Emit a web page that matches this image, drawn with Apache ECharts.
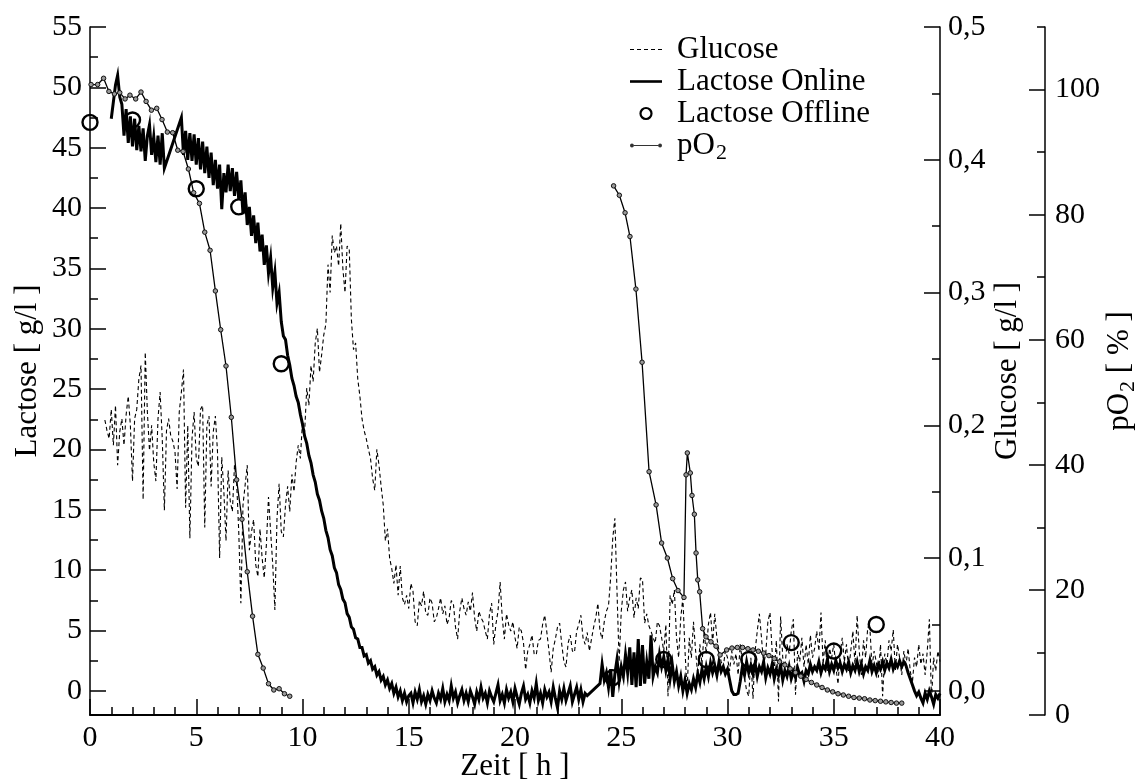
<!DOCTYPE html>
<html>
<head>
<meta charset="utf-8">
<script src="https://cdn.jsdelivr.net/npm/echarts@6/dist/echarts.min.js"></script>
<style>
  html, body { margin: 0; padding: 0; background: #fff; }
  #chart { width: 1148px; height: 780px; }
</style>
</head>
<body>
<div id="chart"></div>
<script>
// Fermentation run: lactose (online probe + offline samples), glucose and dissolved oxygen.
const FONT = "'Liberation Serif', 'Times New Roman', serif";

// Axis tick positions
const lactoseMajorTicks = [0, 5, 10, 15, 20, 25, 30, 35, 40, 45, 50, 55];
const lactoseMinorTicks = [2.5, 7.5, 12.5, 17.5, 22.5, 27.5, 32.5, 37.5, 42.5, 47.5, 52.5];
const glucoseMajorTicks = [0, 0.1, 0.2, 0.3, 0.4, 0.5];
const glucoseMinorTicks = [0.05, 0.15, 0.25, 0.35, 0.45];
const po2MajorTicks = [0, 20, 40, 60, 80, 100];
const po2MinorTicks = [10, 30, 50, 70, 90, 110];

// Online lactose probe, logged every 0.1 h in three recording blocks [g/l]
const lactoseOnlineStep = 0.1;
const lactoseOnlineStartA = 1.0;
const lactoseOnlineA = [47.4, 48.8, 50.2, 51.0, 49.2, 48.6, 46.0, 48.2, 45.4, 47.6, 45.1, 47.4, 44.8, 46.8, 44.7, 46.6, 43.9, 46.0, 46.9, 44.4, 45.9, 43.8, 46.0, 43.6, 46.2, 43.3];
const lactoseOnlineStartB = 4.3;
const lactoseOnlineB = [
  47.5, 44.4, 46.4, 44.0, 46.2, 43.9, 46.1, 43.6, 45.8, 43.2, 45.5, 42.9, 45.1, 42.5, 44.6, 41.9, 44.0, 41.6, 43.6, 39.9,
  42.9, 41.3, 43.6, 41.4, 43.3, 41.0, 43.0, 40.7, 42.3, 39.5, 41.3, 38.6, 40.1, 37.7, 39.4, 37.1, 38.8, 36.4, 37.8, 35.3,
  36.9, 34.6, 35.9, 33.4, 34.7, 32.1, 33.0, 30.6,
  29.4, 29.1, 27.8, 27.0, 25.9, 25.3, 24.4, 23.9, 22.9, 22.1,
  21.1, 20.5, 19.5, 18.9, 17.9, 17.3, 16.3, 15.8, 14.9, 14.3,
  13.3, 12.7, 11.7, 11.2, 10.2, 9.8, 8.8, 8.4, 7.6, 7.3,
  6.4, 6.1, 5.3, 5.1, 4.4, 4.3, 3.6, 3.6, 2.9, 3.0,
  2.3, 2.5, 1.8, 2.0, 1.3, 1.6, 0.9, 1.2, 0.5, 0.9,
  0.2, 0.6, -0.2, 0.3, -0.5, 0.0, -0.8, -0.2, -0.9, -0.4,
  -0.2, -1.0, -0.1, -0.7, 0.1, -0.9, -0.4, -1.1, -0.3, -0.8,
  0.0, -0.6, -1.0, -0.2, -0.7, 0.2, -0.9, -0.3, -0.8, 0.4,
  -0.6, -0.1, -1.0, -0.4, 0.1, -0.8, -0.2, -0.9, 0.0, -0.5,
  -1.1, -0.1, -0.7, 0.3, -0.6, -0.2, -1.0, 0.0, -0.5, -0.9,
  -0.2, 0.5, -0.8, -0.3, -1.0, 0.1, -0.6, -0.1, -0.9, 0.2,
  -0.5, -1.1, -0.2, 0.4, -0.7, -0.3, -1.0, 0.0, -0.6, 0.6,
  -0.8, -0.2, -1.0, 0.1, -0.5, -0.1, -0.9, 0.3, -0.6, -1.4,
  0.0, -0.7, 0.2, -0.8, -0.2, 0.4, -0.9, -0.3, 0.3, -0.7,
  0.1, -0.9, -0.2, -0.4
];
const lactoseOnlineStartC = 24.0;
const lactoseOnlineC = [
  0.6, 2.2, 0.9, 1.5, 0.3, 1.8, -0.5, 1.4, 2.6, 0.8, 2.0,
  1.2, 3.0, 1.5, 3.6, 0.5, 3.2, 0.3, 4.3, 0.4, 3.8,
  0.6, 2.4, 1.0, 4.6, 1.2, 2.0, 1.5, 3.0, 2.0, 2.8,
  1.7, 2.6, 1.0, 2.2, 0.8, 1.6, 0.4, 1.2, 0.0, 0.9,
  -0.2, 0.6, 0.1, 1.0, 0.3, 1.4, 0.7, 1.8, 1.0, 2.0,
  1.2, 2.3, 1.5, 2.1, 1.3, 2.4, 1.6, 2.0, 1.4, 1.8,
  0.9, 0.0, -0.3, -0.3, -0.2, 0.8, 2.0, 1.3, 2.4, 1.5,
  2.1, 1.4, 2.3, 1.2, 2.0, 1.6, 2.4, 1.1, 1.9, 1.4,
  2.2, 1.0, 1.8, 1.3, 2.1, 0.9, 1.7, 1.2, 2.0, 1.0,
  1.6, 1.1, 1.9, 1.3, 1.5, 0.8, 1.7, 1.4, 2.2, 1.6,
  2.0, 1.7, 2.4, 1.5, 2.1, 1.8, 2.6, 1.6, 2.2, 1.7,
  2.5, 1.9, 2.3, 1.6, 2.2, 1.8, 2.4, 1.5, 2.1, 1.7,
  2.4, 1.6, 2.2, 1.4, 2.0, 1.7, 2.5, 1.6, 2.1, 1.5,
  2.2, 1.8, 2.4, 1.7, 2.3, 1.9, 2.6, 1.8, 2.3, 2.0,
  2.5, 2.0, 2.4, 2.1, 1.5, 1.0, 0.5, 0.0, -0.4, -0.1,
  -0.6, -1.0, -0.2, -0.7, 0.0, -0.5, -1.1, -0.3, -0.6, -0.2
];

// Offline lactose samples
const offlineTimes = [0, 2, 5, 7, 9, 24.6, 27, 29, 31, 33, 35, 37];
const offlineLactose = [47.1, 47.3, 41.6, 40.1, 27.1, 1.1, 2.6, 2.6, 2.6, 4.0, 3.3, 5.5];

// Glucose probe, logged every 0.1 h from 0.7 h [g/l]
const glucoseStep = 0.1;
const glucoseStart = 0.7;
const glucose = [
  .204, .196, .190,
  .212, .185, .215, .170, .195, .205, .185, .208, .222, .200,
  .158, .205, .212, .235, .245, .144, .255, .210, .181, .200,
  .172, .158, .205, .225, .190, .136, .196, .205, .192, .188,
  .180, .152, .210, .225, .242, .138, .200, .115, .190, .210,
  .175, .169, .212, .215, .123, .200, .207, .154, .195, .207,
  .180, .100, .176, .150, .113, .166, .143, .135, .170, .157,
  .120, .066, .140, .155, .170, .106, .120, .129, .095, .086,
  .122, .100, .085, .110, .146, .120, .095, .061, .130, .156,
  .120, .116, .140, .154, .135, .163, .150, .172, .185, .175,
  .203, .195, .228, .215, .245, .233, .262, .273, .240, .253,
  .268, .276, .321, .300, .343, .330, .335, .320, .352, .318,
  .300, .335, .333, .280, .257, .262, .235, .222, .205, .196,
  .190, .182, .175, .160, .151, .182, .170, .154, .140, .113,
  .122, .100, .092, .081, .095, .072, .094, .070, .065, .072,
  .062, .081, .075, .052, .049, .068, .064, .075, .058, .057,
  .070, .066, .052, .055, .062, .070, .058, .064, .050, .055,
  .068, .066, .048, .039, .060, .070, .062, .057, .067, .060,
  .074, .055, .045, .060, .055, .052, .045, .039, .058, .066,
  .035, .050, .060, .082, .055, .039, .058, .050, .045, .052,
  .040, .032, .048, .045, .036, .016, .030, .035, .042, .028,
  .027, .038, .039, .050, .057, .044, .030, .014, .032, .039,
  .048, .051, .035, .022, .018, .036, .042, .030, .029, .045,
  .050, .057, .040, .035, .044, .030, .039, .048, .055, .066,
  .045, .039, .052, .060, .064, .085, .115, .130, .075, .022,
  .060, .076, .082, .060, .070, .076, .055, .070, .062, .085,
  .084, .051, .058, .049, .045, .040, .036, .052, .049, .040,
  .030, .050, -.004, .072, .065, .076, .040, .025, .055, .070,
  .030, .000, .040, .025, .052, .030, .012, .035, .020, .045,
  .028, .050, .059, .036, .058, .040, .030, .022, .018, .030,
  .025, .015, .030, .020, .028, .012, .035, .022, .010, .000,
  -.004, .025, -.006, .030, .045, .058, .040, .020, .028, .052,
  .059, .030, .015, .038, -.008, .056, .025, .018, .035, .028,
  .045, .054, -.003, .030, .022, .040, .018, .035, .020, .042,
  .025, .032, .045, .030, .059, .020, .038, .015, .032, .025,
  .035, .018, .005, .028, .040, .022, .035, .015, .030, .045,
  .020, .057, .030, .012, .038, .025, .048, .048, .018, .030,
  .022, .010, .035, -.004, .028, .020, .038, .030, .046, .015,
  .035, .025, .012, .030, .020, .032, .015, .006, .025, .018,
  .035, .020, .028, .012, .030, .054, -.007, .025, .015, .030,
  .022
];

// Dissolved oxygen [% saturation], two measuring phases
const po2PhaseOne = [
  [0.05, 100.8], [0.36, 100.8], [0.64, 101.8], [0.89, 99.7], [1.15, 99.3], [1.4, 99.5], [1.65, 98.5],
  [1.88, 99.1], [2.15, 98.5], [2.4, 99.6], [2.64, 98.1], [2.89, 96.7], [3.14, 97.0], [3.39, 95.2],
  [3.64, 93.2], [3.89, 93.1], [4.13, 90.3], [4.38, 90.1], [4.63, 87.3], [4.88, 83.5], [5.15, 81.8],
  [5.4, 77.2], [5.65, 74.3], [5.9, 67.8], [6.15, 61.6], [6.4, 55.8], [6.65, 47.6], [6.9, 37.6],
  [7.15, 31.3], [7.4, 22.9], [7.65, 15.8], [7.9, 9.7], [8.15, 7.5], [8.4, 5.0], [8.65, 4.0],
  [8.9, 4.2], [9.15, 3.4], [9.4, 3.0]
];
const po2PhaseTwo = [
  [24.64, 84.6], [24.91, 83.1], [25.18, 80.3], [25.41, 76.5], [25.69, 68.1], [25.98, 56.4], [26.31, 38.9],
  [26.64, 33.6], [26.9, 27.5], [27.17, 25.1], [27.42, 21.8], [27.67, 19.9], [27.95, 18.8], [28.05, 38.4],
  [28.11, 41.9], [28.25, 38.7], [28.33, 35.1], [28.44, 32.1], [28.52, 25.9], [28.6, 21.6], [28.69, 19.7],
  [28.83, 13.8], [28.99, 12.5], [29.22, 11.7], [29.46, 11.0], [29.65, 9.6], [29.96, 10.4], [30.21, 10.7],
  [30.46, 10.8], [30.71, 10.8], [30.96, 10.6], [31.2, 10.4], [31.45, 10.2], [31.7, 9.9], [31.95, 9.5],
  [32.2, 9.0], [32.45, 8.5], [32.7, 8.0], [32.95, 7.4], [33.2, 6.8], [33.45, 6.2], [33.7, 5.7],
  [33.95, 5.2], [34.2, 4.8], [34.45, 4.4], [34.7, 4.0], [34.95, 3.7], [35.2, 3.4], [35.45, 3.2],
  [35.7, 3.0], [35.95, 2.8], [36.2, 2.7], [36.45, 2.6], [36.7, 2.4], [36.95, 2.3], [37.2, 2.2],
  [37.45, 2.1], [37.7, 2.0], [37.95, 1.9], [38.2, 1.9]
];

// ---- build series data ----
function sampled(start, step, values) {
  return values.map((v, i) => [Math.round((start + i * step) * 100) / 100, v]);
}
const lactoseOnlineData = [].concat(
  sampled(lactoseOnlineStartA, lactoseOnlineStep, lactoseOnlineA),
  sampled(lactoseOnlineStartB, lactoseOnlineStep, lactoseOnlineB),
  sampled(lactoseOnlineStartC, lactoseOnlineStep, lactoseOnlineC)
);
const glucoseData = sampled(glucoseStart, glucoseStep, glucose);
const offlineData = offlineTimes.map((t, i) => [t, offlineLactose[i]]);
const po2Data = po2PhaseOne.concat([[16, '-']], po2PhaseTwo);

const LACTOSE_MIN = -2, LACTOSE_MAX = 55;
const GLUCOSE_PER_LACTOSE = 0.5 / 55; // both scales share the zero line

const black = '#000';
const tickFont = { fontFamily: FONT, fontSize: 30, color: black };
const nameFont = { fontFamily: FONT, fontSize: 31, color: black };

function tickAxis(extra) {
  return Object.assign({
    type: 'value',
    splitLine: { show: false },
    nameMoveOverlap: false,
    axisLine: { show: true, onZero: false, lineStyle: { color: black, width: 1.5 } }
  }, extra);
}

const option = {
  animation: false,
  backgroundColor: '#fff',
  grid: { left: 90, right: 208, top: 27, bottom: 65, containLabel: false, outerBoundsMode: 'none' },
  legend: {
    orient: 'vertical',
    left: 625,
    top: 29,
    itemWidth: 32,
    itemHeight: 11,
    itemGap: 1,
    selectedMode: false,
    textStyle: {
      fontFamily: FONT, fontSize: 31, color: black, padding: [0, 0, 0, 10],
      rich: {
        a: { fontFamily: FONT, fontSize: 31, color: black },
        s: { fontFamily: FONT, fontSize: 22, color: black, verticalAlign: 'bottom', padding: [16, 0, 0, 1] }
      }
    },
    formatter: n => (n === 'pO2' ? '{a|pO}{s|2}' : n),
    data: [
      { name: 'Glucose', icon: 'path://M0,0h4v1.2h-4z M7,0h4v1.2h-4z M14,0h4v1.2h-4z M21,0h4v1.2h-4z M28,0h4v1.2h-4z', itemStyle: { color: black, borderWidth: 0 } },
      { name: 'Lactose Online', icon: 'path://M0,0h32v2.6h-32z', itemStyle: { color: black, borderWidth: 0 } },
      { name: 'Lactose Offline', icon: 'circle', itemStyle: { color: 'rgba(0,0,0,0)', borderColor: black, borderWidth: 2.2 } },
      { name: 'pO2', icon: 'path://M0.5,2.5a2,2 0 1,0 4,0a2,2 0 1,0 -4,0z M29.5,2.5a2,2 0 1,0 4,0a2,2 0 1,0 -4,0z M4.5,2.1h25v0.8h-25z', itemStyle: { color: '#333', borderWidth: 0 } }
    ]
  },
  xAxis: {
    type: 'value',
    min: 0, max: 40, interval: 5,
    name: 'Zeit [ h ]',
    nameLocation: 'middle',
    nameGap: 36,
    nameMoveOverlap: false,
    nameTextStyle: nameFont,
    splitLine: { show: false },
    axisLine: { onZero: false, lineStyle: { color: black, width: 2 } },
    axisTick: { inside: true, length: 16, lineStyle: { color: black, width: 1.5 } },
    minorTick: { show: true, splitNumber: 5, length: 8, lineStyle: { color: black, width: 1.5 } },
    axisLabel: Object.assign({ margin: 8 }, tickFont)
  },
  yAxis: [
    // 0: lactose, labelled scale
    tickAxis({
      position: 'left', min: LACTOSE_MIN, max: LACTOSE_MAX,
      name: 'Lactose [ g/l ]', nameLocation: 'middle', nameRotate: 90, nameGap: 47,
      nameTextStyle: nameFont,
      axisTick: { show: true, inside: true, length: 16, customValues: lactoseMajorTicks, lineStyle: { color: black, width: 1.5 } },
      axisLabel: Object.assign({ margin: 8, customValues: lactoseMajorTicks }, tickFont)
    }),
    // 1: lactose minor ticks
    tickAxis({
      position: 'left', min: LACTOSE_MIN, max: LACTOSE_MAX,
      axisLine: { show: false },
      axisTick: { show: true, inside: true, length: 8, customValues: lactoseMinorTicks, lineStyle: { color: black, width: 1.5 } },
      axisLabel: { show: false }
    }),
    // 2: glucose, labelled scale
    tickAxis({
      position: 'right', offset: 0,
      min: LACTOSE_MIN * GLUCOSE_PER_LACTOSE, max: LACTOSE_MAX * GLUCOSE_PER_LACTOSE,
      name: 'Glucose [ g/l ]', nameLocation: 'middle', nameRotate: 90, nameGap: 52,
      nameTextStyle: nameFont,
      axisTick: { show: true, inside: true, length: 16, customValues: glucoseMajorTicks, lineStyle: { color: black, width: 1.5 } },
      axisLabel: Object.assign({ margin: 8, customValues: glucoseMajorTicks, formatter: v => v.toFixed(1).replace('.', ',') }, tickFont)
    }),
    // 3: glucose minor ticks
    tickAxis({
      position: 'right', offset: 0,
      min: LACTOSE_MIN * GLUCOSE_PER_LACTOSE, max: LACTOSE_MAX * GLUCOSE_PER_LACTOSE,
      axisLine: { show: false },
      axisTick: { show: true, inside: true, length: 8, customValues: glucoseMinorTicks, lineStyle: { color: black, width: 1.5 } },
      axisLabel: { show: false }
    }),
    // 4: pO2, labelled scale
    tickAxis({
      position: 'right', offset: 105, min: 0, max: 110,
      name: '{a|pO}{s|2}{a| [ % ]}', nameLocation: 'middle', nameRotate: 90, nameGap: 56,
      nameTextStyle: {
        fontFamily: FONT, fontSize: 31, color: black,
        rich: {
          a: { fontFamily: FONT, fontSize: 31, color: black },
          s: { fontFamily: FONT, fontSize: 22, color: black, verticalAlign: 'bottom', padding: [16, 0, 0, 1] }
        }
      },
      axisTick: { show: true, inside: true, length: 16, customValues: po2MajorTicks, lineStyle: { color: black, width: 1.5 } },
      axisLabel: Object.assign({ margin: 10, customValues: po2MajorTicks }, tickFont)
    }),
    // 5: pO2 minor ticks
    tickAxis({
      position: 'right', offset: 105, min: 0, max: 110,
      axisLine: { show: false },
      axisTick: { show: true, inside: true, length: 8, customValues: po2MinorTicks, lineStyle: { color: black, width: 1.5 } },
      axisLabel: { show: false }
    })
  ],
  series: [
    {
      name: 'Glucose', type: 'line', yAxisIndex: 2,
      data: glucoseData, symbol: 'none', sampling: null,
      lineStyle: { color: black, width: 1.1, type: [4, 3] },
      itemStyle: { color: black }, z: 2
    },
    {
      name: 'Lactose Online', type: 'line', yAxisIndex: 0,
      data: lactoseOnlineData, symbol: 'none',
      lineStyle: { color: black, width: 3, join: 'miter' },
      itemStyle: { color: black }, z: 3
    },
    {
      name: 'Lactose Offline', type: 'scatter', yAxisIndex: 0,
      data: offlineData, symbol: 'circle', symbolSize: 15,
      itemStyle: { color: 'rgba(0,0,0,0)', borderColor: black, borderWidth: 2.4, opacity: 1 }, z: 5
    },
    {
      name: 'pO2', type: 'line', yAxisIndex: 4,
      data: po2Data, connectNulls: false,
      symbol: 'circle', symbolSize: 4.5, showSymbol: true,
      lineStyle: { color: black, width: 1.3 },
      itemStyle: { color: '#999', borderColor: '#111', borderWidth: 1 }, z: 4
    }
  ]
};

const chart = echarts.init(document.getElementById('chart'), null, { renderer: 'canvas' });
chart.setOption(option);
</script>
</body>
</html>
